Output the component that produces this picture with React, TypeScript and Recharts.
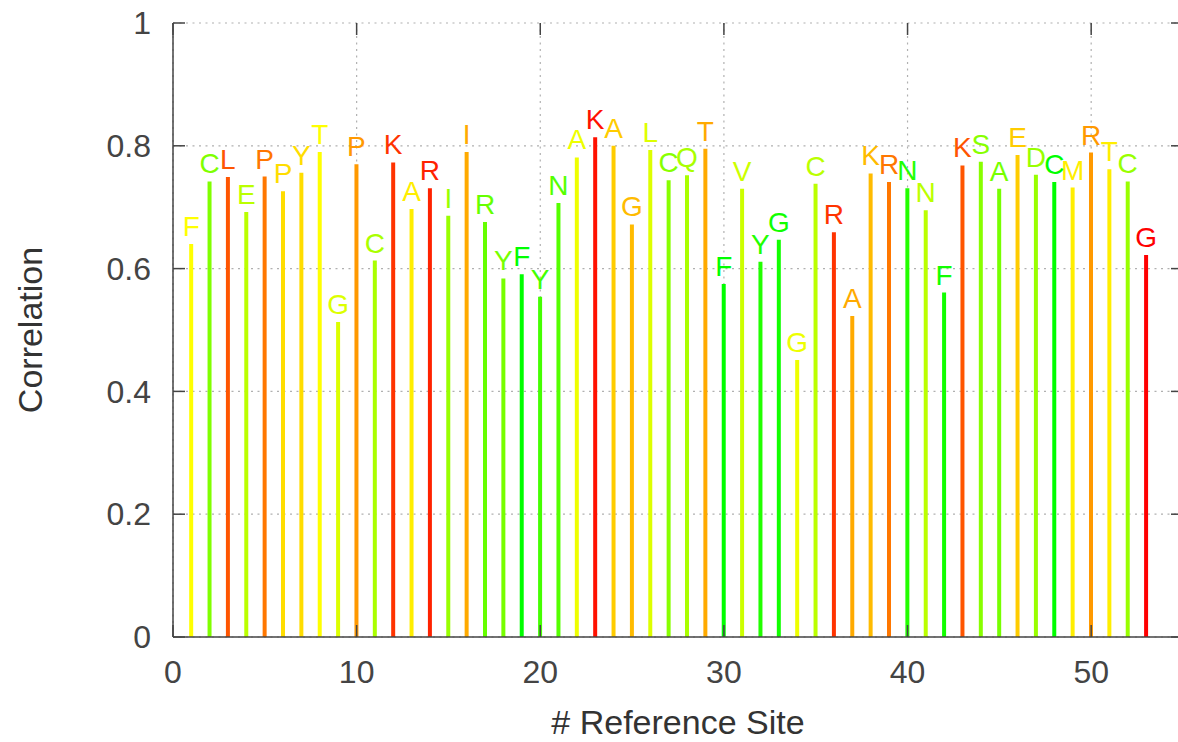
import React from 'react';
import { BarChart, Bar, XAxis, YAxis, CartesianGrid, Cell, LabelList, Label } from 'recharts';

// reference site index, residue letter and correlation per site
const sites = [
  1, 2, 3, 4, 5, 6, 7, 8, 9, 10, 11, 12, 13, 14, 15, 16, 17, 18, 19, 20,
  21, 22, 23, 24, 25, 26, 27, 28, 29, 30, 31, 32, 33, 34, 35, 36, 37, 38, 39, 40,
  41, 42, 43, 44, 45, 46, 47, 48, 49, 50, 51, 52, 53,
];
const residues = [
  'F', 'C', 'L', 'E', 'P', 'P', 'Y', 'T', 'G', 'P', 'C', 'K', 'A', 'R', 'I', 'I', 'R', 'Y', 'F', 'Y',
  'N', 'A', 'K', 'A', 'G', 'L', 'C', 'Q', 'T', 'F', 'V', 'Y', 'G', 'G', 'C', 'R', 'A', 'K', 'R', 'N',
  'N', 'F', 'K', 'S', 'A', 'E', 'D', 'C', 'M', 'R', 'T', 'C', 'G',
];
const correlation = [
  0.640, 0.742, 0.749, 0.692, 0.750, 0.726, 0.756, 0.790, 0.513, 0.770,
  0.613, 0.773, 0.697, 0.731, 0.686, 0.790, 0.676, 0.584, 0.591, 0.554,
  0.707, 0.781, 0.814, 0.800, 0.672, 0.793, 0.744, 0.752, 0.795, 0.575,
  0.730, 0.611, 0.647, 0.451, 0.738, 0.659, 0.523, 0.755, 0.741, 0.731,
  0.695, 0.561, 0.768, 0.774, 0.730, 0.785, 0.753, 0.741, 0.732, 0.789,
  0.762, 0.742, 0.622,
];
const barColors = [
  '#ffff00', '#80ff00', '#ff5500', '#bbff00', '#ff7700', '#ffdd00', '#ffdd00', '#ffff00', '#ddff00', '#ff9900',
  '#aaff00', '#ff3300', '#ffee00', '#ff2200', '#99ff00', '#ffaa00', '#66ff00', '#77ff00', '#00ff00', '#44ff00',
  '#55ff00', '#eeff00', '#ff1100', '#ffcc00', '#ffbb00', '#ddff00', '#88ff00', '#aaff00', '#ffaa00', '#00ff00',
  '#ccff00', '#22ff00', '#11ff00', '#eeff00', '#bbff00', '#ff3300', '#ffaa00', '#ffbb00', '#ff7700', '#22ff00',
  '#bbff00', '#11ff00', '#ff5500', '#88ff00', '#77ff00', '#ffcc00', '#99ff00', '#00ff00', '#ffee00', '#ff9900',
  '#ffee00', '#99ff00', '#ff0000',
];
const xTicks = [0, 10, 20, 30, 40, 50];
const yTicks = [0, 0.2, 0.4, 0.6, 0.8, 1];

const data = sites.map((s, i) => ({ site: s, value: correlation[i], residue: residues[i] }));

const FONT = '"Liberation Sans", Arial, Helvetica, sans-serif';
const AXIS = '#444444';
const PLOT_LEFT = 173;
const PLOT_RIGHT = 1183;
const PLOT_TOP = 23;
const PLOT_BOTTOM = 637;

const YTick = ({ y, payload }: any) => (
  <g>
    <line x1={PLOT_LEFT} x2={PLOT_LEFT + 12} y1={y} y2={y} stroke={AXIS} strokeWidth={1.5} />
    <line x1={PLOT_RIGHT} x2={PLOT_RIGHT - 12} y1={y} y2={y} stroke={AXIS} strokeWidth={1.5} />
    <text x={PLOT_LEFT - 22} y={y} dy="0.35em" textAnchor="end" fill={AXIS} fontSize={32} fontFamily={FONT}>
      {payload.value}
    </text>
  </g>
);

const XTick = ({ x, payload }: any) => (
  <g>
    <line x1={x} x2={x} y1={PLOT_BOTTOM} y2={PLOT_BOTTOM - 12} stroke={AXIS} strokeWidth={1.5} />
    <line x1={x} x2={x} y1={PLOT_TOP} y2={PLOT_TOP + 12} stroke={AXIS} strokeWidth={1.5} />
    <text x={x} y={PLOT_BOTTOM + 35} dy="0.35em" textAnchor="middle" fill={AXIS} fontSize={32} fontFamily={FONT}>
      {payload.value}
    </text>
  </g>
);

const ResidueLabel = (props: any) => {
  const vb = props.viewBox ?? props;
  const i = props.index ?? 0;
  return (
    <text
      x={vb.x + vb.width / 2}
      y={vb.y - 8}
      textAnchor="middle"
      fill={barColors[i]}
      fontSize={28}
      fontFamily={FONT}
    >
      {props.value}
    </text>
  );
};

export default function App() {
  return (
    <div style={{ position: 'absolute', left: 0, top: 0, width: 1178, height: 742, overflow: 'hidden', background: '#fff' }}>
      <BarChart width={1190} height={742} data={data} margin={{ top: 23, right: 7, bottom: 45, left: 0 }}>
        <CartesianGrid stroke="#b0b0b0" strokeDasharray="2 4.5" strokeWidth={1.2} />
        <XAxis
          dataKey="site"
          type="number"
          domain={[0, 55]}
          ticks={xTicks}
          height={60}
          stroke={AXIS}
          strokeWidth={1.5}
          tickLine={false}
          tick={<XTick />}
        >
          <Label
            content={() => (
              <text x={(PLOT_LEFT + PLOT_RIGHT) / 2} y={734} textAnchor="middle" fill="#333" fontSize={34} fontFamily={FONT}>
                # Reference Site
              </text>
            )}
          />
        </XAxis>
        <YAxis
          type="number"
          domain={[0, 1]}
          ticks={yTicks}
          width={173}
          stroke={AXIS}
          strokeWidth={1.5}
          tickLine={false}
          tick={<YTick />}
        >
          <Label
            content={() => (
              <text
                x={30}
                y={330}
                dy="0.35em"
                transform="rotate(-90 30 330)"
                textAnchor="middle"
                fill="#333"
                fontSize={34}
                fontFamily={FONT}
              >
                Correlation
              </text>
            )}
          />
        </YAxis>
        <Bar dataKey="value" barSize={4} isAnimationActive={false}>
          {data.map((d, i) => (
            <Cell key={d.site} fill={barColors[i]} />
          ))}
          <LabelList dataKey="residue" content={<ResidueLabel />} />
        </Bar>
      </BarChart>
    </div>
  );
}
